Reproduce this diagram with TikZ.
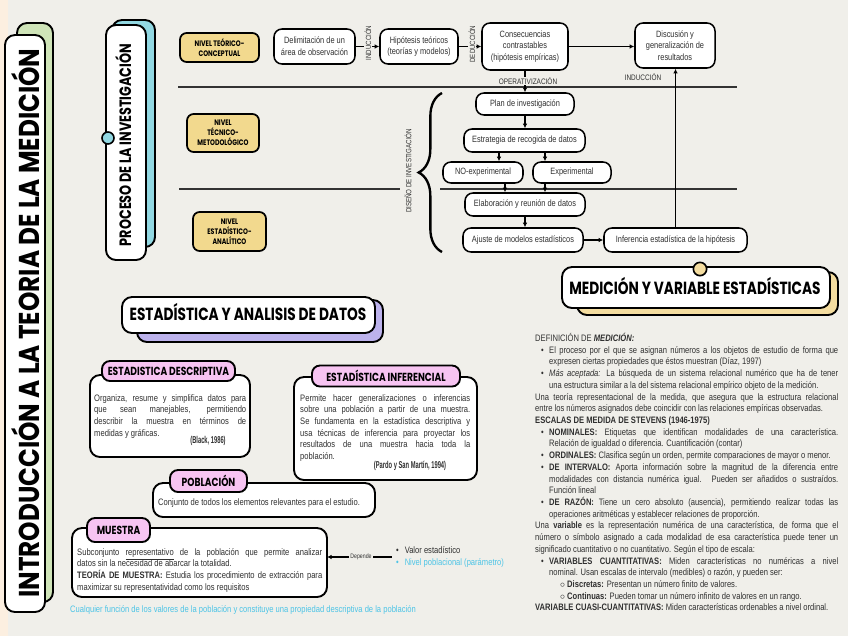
\documentclass[tikz,border=0pt]{standalone}
\usepackage{fontspec}
\setmainfont{Liberation Sans}
\newfontfamily\narrowfont[FakeStretch = 0.81]{Liberation Sans}
\newfontfamily\handfont[FakeStretch = 0.78]{Poppins}
\newfontfamily\handwide[FakeStretch = 0.86]{Poppins}
\newfontfamily\citefont[FakeStretch = 0.58]{Liberation Sans}
\usetikzlibrary{calc, arrows.meta, positioning}
\usetikzlibrary{decorations.pathreplacing}
\usepackage{xcolor}
\definecolor{PaperCol}{HTML}{F0EFEA}
\definecolor{PeachCol}{HTML}{FCEFE0}
\definecolor{GreenCol}{HTML}{CFE4B8}
\definecolor{CyanCol}{HTML}{92D8E2}
\definecolor{LevelCol}{HTML}{F2D98E}
\definecolor{YellowCol}{HTML}{F4DDA0}
\definecolor{LavenderCol}{HTML}{BCB2EC}
\definecolor{TabCol}{HTML}{F7C4F2}
\definecolor{TextCol}{HTML}{303030}
\definecolor{CyanText}{HTML}{4CC4E6}
\setlength{\parindent}{0pt}
\tolerance = 10000
\hbadness = 10000
\hyphenpenalty = 10000
\newlength{\pxl}
\setlength{\pxl}{0.03cm}
\newcommand{\bitem}{\par\noindent\hangindent = 14\pxl\hangafter = 1\hbox to 14\pxl{\hspace{6\pxl}\textbullet\hss}}
\newcommand{\sbitem}{\par\noindent\hangindent = 32\pxl\hangafter = 1\hbox to 32\pxl{\hspace{25\pxl}$\circ$\hss}}
\tikzset{
	shadowbox/.style = {draw, line width = 1.6pt, rounded corners = 0.3cm},
	flowbox/.style = {draw, line width = 1.3pt, fill = white, rounded corners = 0.24cm, align = center, inner sep = 1pt, text = TextCol, font = \narrowfont\fontsize{7.8}{10}\selectfont},
	levelbox/.style = {draw, line width = 1.5pt, fill = LevelCol, rounded corners = 0.2cm, align = center, inner sep = 1pt, font = \handfont\bfseries\fontsize{6.8}{8.6}\selectfont},
	flowarrow/.style = {line width = 1.1pt, -{Latex[length = 4pt, width = 4pt]}},
	sepline/.style = {line width = 0.9pt, black!80},
	sidelabel/.style = {fill = PaperCol, inner sep = 0.6pt, text = TextCol, font = \narrowfont\fontsize{6.8}{8}\selectfont},
	rotlabel/.style = {sidelabel, rotate = 90, font = \narrowfont\fontsize{6.4}{7}\selectfont},
	bodybox/.style = {draw, line width = 1.6pt, fill = white, rounded corners = 0.3cm},
	tabbox/.style = {draw, line width = 1.6pt, fill = TabCol, rounded corners = 0.24cm, inner sep = 0pt, font = \handfont\bfseries\fontsize{10}{11}\selectfont},
	bodytext/.style = {inner sep = 0pt, anchor = north west, text = TextCol, font = \narrowfont\fontsize{8}{10}\selectfont},
	citetext/.style = {inner sep = 0pt, text = TextCol, font = \citefont\bfseries\fontsize{8.5}{9}\selectfont},
	titletext/.style = {anchor = base, inner sep = 0pt, font = \handfont\bfseries\fontsize{15}{17}\selectfont},
}

\begin{document}
\begin{tikzpicture}[x = 0.03cm, y = -0.03cm]
	% paper
	\fill[PaperCol] (0, 0) rectangle (848, 636);
	\fill[PeachCol] (0, 0) rectangle (8, 636);
	\useasboundingbox (0, 0) rectangle (848, 636);

	% main title strip
	\filldraw[shadowbox, fill = GreenCol] (17, 23) rectangle (53, 602);
	\filldraw[shadowbox, fill = white] (5, 35) rectangle (45, 612);
	\node[rotate = 90, anchor = base, inner sep = 0pt, font = \handwide\bfseries\fontsize{24.5}{26}\selectfont] (maintitle) at (39, 323) {INTRODUCCIÓN A LA TEORIA DE LA MEDICIÓN};

	% proceso de la investigacion
	\filldraw[shadowbox, fill = CyanCol] (112, 20) rectangle (155, 247);
	\filldraw[shadowbox, fill = white] (106, 25) rectangle (146, 260);
	\filldraw[fill = CyanCol, line width = 1.4pt] (108, 138) circle (0.18cm);
	\node[rotate = 90, anchor = base, inner sep = 0pt, font = \handfont\bfseries\fontsize{14}{16}\selectfont] (proctitle) at (131, 145) {PROCESO DE LA INVESTIGACIÓN};

	\foreach \ya/\xa/\xb in {87/178/737, 189/179/400, 189/440/737} {
			\draw[sepline] (\xa, \ya) -- (\xb, \ya);
		}

	\node[levelbox, minimum width = 2.37cm, minimum height = 0.87cm] (lvlteo) at (219.5, 47.5) {NIVEL TEÓRICO-\\CONCEPTUAL};
	\node[levelbox, minimum width = 2.16cm, minimum height = 1.14cm] (lvltec) at (223, 133) {NIVEL\\TÉCNICO-\\METODOLÓGICO};
	\node[levelbox, minimum width = 2.19cm, minimum height = 1.17cm] (lvlest) at (229.5, 231.5) {NIVEL\\ESTADÍSTICO-\\ANALÍTICO};

	% flow
	\node[flowbox, minimum width = 2.43cm, minimum height = 1.05cm] (delim) at (314.5, 46.5) {Delimitación de un\\área de observación};
	\node[flowbox, minimum width = 2.34cm, minimum height = 1.05cm] (hipot) at (419, 46.5) {Hipótesis teóricos\\(teorías y modelos)};
	\node[flowbox, minimum width = 2.58cm, minimum height = 1.41cm] (conse) at (525, 46.5) {Consecuencias\\contrastables\\(hipótesis empíricas)};
	\node[flowbox, minimum width = 2.40cm, minimum height = 1.35cm] (discu) at (675, 45.5) {Discusión y\\generalización de\\resultados};
	\node[flowbox, minimum width = 2.94cm, minimum height = 0.66cm] (plan) at (525, 104) {Plan de investigación};
	\node[flowbox, minimum width = 3.63cm, minimum height = 0.69cm] (estra) at (524.5, 140.5) {Estrategia de recogida de datos};
	\node[flowbox, minimum width = 2.40cm, minimum height = 0.63cm] (noexp) at (483, 172.5) {NO-experimental};
	\node[flowbox, minimum width = 2.34cm, minimum height = 0.63cm] (exper) at (572, 172.5) {Experimental};
	\node[flowbox, minimum width = 3.60cm, minimum height = 0.69cm] (elab) at (525, 204.5) {Elaboración y reunión de datos};
	\node[flowbox, minimum width = 3.60cm, minimum height = 0.72cm] (ajuste) at (523, 240) {Ajuste de modelos estadísticos};
	\node[flowbox, minimum width = 4.29cm, minimum height = 0.72cm] (infer) at (675.5, 240) {Inferencia estadística de la hipótesis};

	\coordinate (colA) at (499, 0);
	\coordinate (colB) at (545, 0);
	\coordinate (colC) at (505, 0);

	\draw[flowarrow] (delim.east) -- (hipot.west);
	\draw[flowarrow] (hipot.east) -- (conse.west);
	\draw[flowarrow] (conse.east) -- (conse.east -| discu.west);
	\draw[flowarrow] (conse.south) -- (plan.north);
	\draw[flowarrow] (plan.south) -- (plan.south |- estra.north);
	\draw[flowarrow] (estra.south -| colA) -- (noexp.north -| colA);
	\draw[flowarrow] (estra.south -| colB) -- (exper.north -| colB);
	\draw[flowarrow] (noexp.south -| colC) -- (elab.north -| colC);
	\draw[flowarrow] (exper.south -| colB) -- (elab.north -| colB);
	\draw[flowarrow] (elab.south) -- (elab.south |- ajuste.north);
	\draw[flowarrow] (ajuste.east) -- (infer.west);
	\draw[flowarrow] (infer.north) -- (infer.north |- discu.south);

	\node[rotlabel] (induc) at (368, 43) {INDUCCIÓN};
	\node[rotlabel] (deduc) at (472, 44) {DEDUCCIÓN};
	\node[sidelabel] (operat) at (528, 81) {OPERATIVIZACIÓN};
	\node[sidelabel, fill = none] (inducb) at (643, 77) {INDUCCIÓN};

	\draw[decorate, decoration = {brace, amplitude = 0.7cm}, line width = 2pt] (442, 252) -- (442, 93);
	\node[rotate = 90, inner sep = 0pt, text = TextCol, font = \narrowfont\fontsize{6.5}{7}\selectfont] (diseno) at (408, 171) {DISEÑO DE INVESTIGACIÓN};

	% medicion y variable
	\filldraw[shadowbox, fill = YellowCol] (577, 272) rectangle (838, 315);
	\filldraw[shadowbox, fill = white] (562, 267) rectangle (830, 308);
	\filldraw[fill = YellowCol, line width = 1.4pt] (700, 269) circle (0.2cm);
	\node[titletext] (medtitle) at (695, 294) {MEDICIÓN Y VARIABLE ESTADÍSTICAS};

	\node[bodytext, align = justify, text width = 9.09cm] (medtext) at (535, 333) {DEFINICIÓN DE \textbf{\textit{MEDICIÓN:}}
		\bitem El proceso por el que se asignan números a los objetos de estudio de forma que\linebreak expresen ciertas propiedades que éstos muestran (Díaz, 1997)
		\bitem \textit{Más aceptada:} La búsqueda de un sistema relacional numérico que ha de tener\linebreak una estructura similar a la del sistema relacional empírico objeto de la medición.
		\par Una teoría representacional de la medida, que asegura que la estructura relacional\linebreak entre los números asignados debe coincidir con las relaciones empíricas observadas.
		\par\textbf{ESCALAS DE MEDIDA DE STEVENS (1946-1975)}
		\bitem \textbf{NOMINALES:} Etiquetas que identifican modalidades de una característica.\linebreak Relación de igualdad o diferencia. Cuantificación (contar)
		\bitem \textbf{ORDINALES:} Clasifica según un orden, permite comparaciones de mayor o menor.
		\bitem \textbf{DE INTERVALO:} Aporta información sobre la magnitud de la diferencia entre\linebreak modalidades con distancia numérica igual. Pueden ser añadidos o sustraídos.\linebreak Función lineal
		\bitem \textbf{DE RAZÓN:} Tiene un cero absoluto (ausencia), permitiendo realizar todas las\linebreak operaciones aritméticas y establecer relaciones de proporción.
		\par Una \textbf{variable} es la representación numérica de una característica, de forma que el\linebreak número o símbolo asignado a cada modalidad de esa característica puede tener un\linebreak significado cuantitativo o no cuantitativo. Según el tipo de escala:
		\bitem \textbf{VARIABLES CUANTITATIVAS:} Miden características no numéricas a nivel\linebreak nominal. Usan escalas de intervalo (medibles) o razón, y pueden ser:
		\sbitem \textbf{Discretas:} Presentan un número finito de valores.
		\sbitem \textbf{Continuas:} Pueden tomar un número infinito de valores en un rango.
		\par\textbf{VARIABLE CUASI-CUANTITATIVAS:} Miden características ordenables a nivel ordinal.};

	% estadistica y analisis de datos
	\filldraw[shadowbox, fill = LavenderCol] (137, 300) rectangle (383, 342);
	\filldraw[shadowbox, fill = white] (122, 297) rectangle (375, 333);
	\node[titletext] (esttitle) at (248, 320) {ESTADÍSTICA Y ANALISIS DE DATOS};

	\draw[bodybox] (90, 375) rectangle (250, 457);
	\node[tabbox, minimum width = 3.99cm, minimum height = 0.6cm] (desctab) at (168.5, 371) {ESTADISTICA DESCRIPTIVA};
	\node[bodytext, align = justify, text width = 4.56cm] (desctext) at (94, 394) {Organiza, resume y simplifica datos para\linebreak que sean manejables, permitiendo\linebreak describir la muestra en términos de\linebreak medidas y gráficas.};
	\node[citetext] (desccite) at (208, 441) {(Black, 1986)};

	\draw[bodybox] (294, 377) rectangle (477, 480);
	\node[tabbox, minimum width = 4.44cm, minimum height = 0.63cm] (inftab) at (386, 376) {ESTADÍSTICA INFERENCIAL};
	\node[bodytext, align = justify, text width = 5.1cm] (inftext) at (300, 394) {Permite hacer generalizaciones o inferencias\linebreak sobre una población a partir de una muestra.\linebreak Se fundamenta en la estadística descriptiva y\linebreak usa técnicas de inferencia para proyectar los\linebreak resultados de una muestra hacia toda la\linebreak población.};
	\node[citetext] (infcite) at (410, 466) {(Pardo y San Martín, 1994)};

	\draw[bodybox] (153, 483) rectangle (375, 517);
	\node[tabbox, minimum width = 2.31cm, minimum height = 0.66cm] (pobtab) at (208.5, 481) {POBLACIÓN};
	\node[bodytext, anchor = west] (pobtext) at (158, 503) {Conjunto de todos los elementos relevantes para el estudio.};

	\draw[bodybox] (72, 528) rectangle (327, 597);
	\node[tabbox, minimum width = 1.89cm, minimum height = 0.72cm] (muetab) at (118.5, 530) {MUESTRA};
	\node[bodytext, align = justify, text width = 7.35cm] (muetext) at (77, 548) {Subconjunto \underline{representativo} de la población que permite analizar\linebreak datos sin la necesidad de abarcar la totalidad.
		\par\textbf{TEORÍA DE MUESTRA:} Estudia los procedimiento de extracción para\linebreak maximizar su representatividad como los requisitos};

	\coordinate (muestraE) at (327, 557);
	\node[inner sep = 1pt, text = TextCol, font = \narrowfont\fontsize{5.5}{6}\selectfont] (depende) at (361, 557) {Depende};
	\node[bodytext, anchor = west, align = left] (deplist) at (396, 557) {\textbullet\hspace{5pt}Valor estadístico\\\textcolor{CyanText}{\textbullet\hspace{5pt}Nivel poblacional (parámetro)}};
	\draw[flowarrow] (depende) -- (muestraE);
	\draw[line width = 1.1pt, shorten > = 3pt] (depende) -- (deplist);

	\node[bodytext, anchor = west, text = CyanText] (footnote) at (70, 610) {Cualquier función de los valores de la población y constituye una propiedad descriptiva de la población};
\end{tikzpicture}
\end{document}
